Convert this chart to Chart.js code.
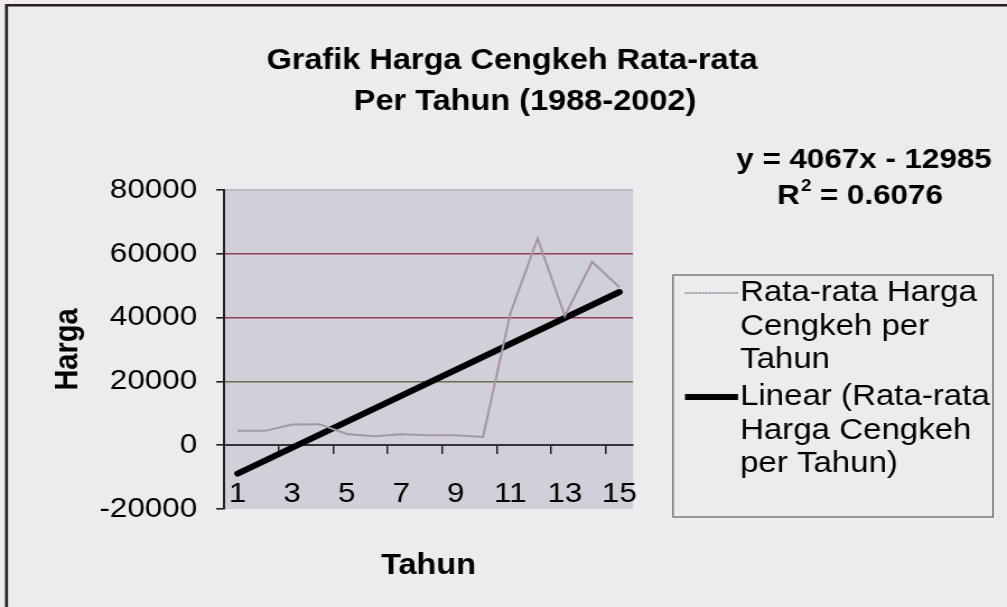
<!DOCTYPE html>
<html>
<head>
<meta charset="utf-8">
<script src="https://cdn.jsdelivr.net/npm/chart.js@4.4.0/dist/chart.umd.min.js"></script>
<style>
  html, body { margin: 0; padding: 0; background: #ececee; overflow: hidden; }
  #chart { display: block; }
</style>
</head>
<body>
<canvas id="chart" width="899" height="607" style="width: 1007px; height: 607px;"></canvas>
<script>
// the scan is a little wider than it is tall, so the canvas is drawn narrow and stretched by css
const STRETCH = 1007 / 899
const X = (px) => px / STRETCH

const years = ['1', '2', '3', '4', '5', '6', '7', '8', '9', '10', '11', '12', '13', '14', '15']
const hargaRataRata = [4500, 4500, 6500, 6600, 3500, 2800, 3400, 3100, 3100, 2600, 41300, 64800, 40500, 57500, 49500]
const trendYears = ['1', '15']
const trendHarga = [-8918, 48020]
const titleLines = ['Grafik Harga Cengkeh Rata-rata', 'Per Tahun (1988-2002)']
const equationLines = ['y = 4067x - 12985', '= 0.6076']
const legendLines = [
  ['Rata-rata Harga', 'Cengkeh per', 'Tahun'],
  ['Linear (Rata-rata', 'Harga Cengkeh', 'per Tahun)'],
]

const FONT = "'Liberation Sans', Arial, sans-serif"
Chart.defaults.font.family = FONT
Chart.defaults.color = '#000000'

const gridColors = {
  80000: 'rgba(150,150,160,0.6)',
  60000: '#94405a',
  40000: '#94405a',
  20000: '#6b6b48',
  0: '#3a3a44',
}

const backdrop = {
  id: 'backdrop',
  beforeDraw(chart) {
    const { ctx, chartArea: { left, top, width, height } } = chart
    ctx.save()
    ctx.fillStyle = '#ececee'
    ctx.fillRect(0, 0, chart.width, chart.height)
    ctx.fillStyle = '#d1d0d9'
    ctx.fillRect(left, top, width, height)
    // frame of the scanned chart object
    ctx.fillStyle = '#2a1e22'
    ctx.fillRect(X(6), 4, chart.width, 2.5)
    ctx.fillRect(X(5), 4, X(3), chart.height)
    ctx.restore()
  },
}

const texts = {
  id: 'texts',
  afterDraw(chart) {
    const { ctx, chartArea } = chart
    ctx.save()
    ctx.fillStyle = '#000'
    ctx.textAlign = 'center'
    ctx.textBaseline = 'middle'

    ctx.font = `bold 29px ${FONT}`
    ctx.fillText(titleLines[0], X(512), 61)
    ctx.fillText(titleLines[1], X(525), 102)

    // trendline equation
    ctx.font = `bold 28px ${FONT}`
    ctx.fillText(equationLines[0], X(864), 160)
    const w2 = ctx.measureText(equationLines[1]).width
    const rW = ctx.measureText('R').width
    const supW = 12
    const total = rW + supW + 6 + w2
    let x = X(860) - total / 2
    ctx.textAlign = 'left'
    ctx.fillText('R', x, 196)
    ctx.font = `bold 17px ${FONT}`
    ctx.fillText('2', x + rW + 1, 186)
    ctx.font = `bold 28px ${FONT}`
    ctx.fillText(equationLines[1], x + rW + supW + 6, 196)

    // axis titles
    ctx.textAlign = 'center'
    ctx.font = `bold 29px ${FONT}`
    ctx.fillText('Tahun', (chartArea.left + chartArea.right) / 2, 566)
    ctx.save()
    ctx.translate(X(68), (chartArea.top + chartArea.bottom) / 2)
    ctx.rotate(-Math.PI / 2)
    ctx.fillText('Harga', 0, 0)
    ctx.restore()

    // legend
    const boxL = X(673), boxR = X(993), boxT = 275, boxB = 517
    ctx.strokeStyle = '#4a3a40'
    ctx.lineWidth = 1
    ctx.strokeRect(boxL, boxT, boxR - boxL, boxB - boxT)
    const entryTops = [293, 397]
    const lineH = 33.5
    ctx.font = `29.5px ${FONT}`
    ctx.textAlign = 'left'
    chart.data.datasets.forEach((ds, i) => {
      const y0 = entryTops[i]
      ctx.beginPath()
      ctx.strokeStyle = ds.borderColor
      ctx.lineWidth = ds.borderWidth
      ctx.lineCap = 'butt'
      ctx.setLineDash(i === 0 ? [2, 1] : [])
      ctx.moveTo(X(685), y0)
      ctx.lineTo(X(738), y0)
      ctx.stroke()
      ctx.setLineDash([])
      legendLines[i].forEach((t, j) => {
        ctx.fillText(t, X(740), y0 + j * lineH)
      })
    })
    ctx.restore()
  },
}

new Chart(document.getElementById('chart'), {
  type: 'line',
  data: {
    labels: years,
    datasets: [
      {
        label: legendLines[0].join(' '),
        data: hargaRataRata,
        borderColor: '#a596a5',
        borderWidth: 2,
        pointRadius: 0,
        tension: 0,
      },
      {
        label: legendLines[1].join(' '),
        data: trendYears.map((yr, i) => ({ x: yr, y: trendHarga[i] })),
        borderColor: '#000000',
        borderWidth: 6,
        borderCapStyle: 'round',
        pointRadius: 0,
        tension: 0,
      },
    ],
  },
  options: {
    responsive: false,
    animation: false,
    devicePixelRatio: 1,
    layout: {
      padding: { left: X(224) - 150, right: 899 - X(633), top: 190, bottom: 98 },
    },
    plugins: {
      legend: { display: false },
      title: { display: false },
      tooltip: { enabled: false },
    },
    scales: {
      x: {
        type: 'category',
        position: { y: 0 },
        offset: true,
        border: { display: true, color: '#33333b', width: 2 },
        grid: {
          offset: true,
          drawOnChartArea: false,
          drawTicks: true,
          tickLength: 8,
          lineWidth: 1.5,
          color: (c) => (c.index % 2 === 0 && c.index > 0 && c.index < years.length ? '#222' : 'rgba(0,0,0,0)'),
        },
        ticks: {
          autoSkip: false,
          maxRotation: 0,
          padding: 24,
          font: { size: 28 },
          color: '#000',
          callback: function (val, i) {
            return i % 2 === 0 ? this.getLabelForValue(val) : ''
          },
        },
      },
      y: {
        min: -20000,
        max: 80000,
        afterFit: (scale) => { scale.width = 150 },
        border: { display: true, color: '#222', width: 2 },
        grid: {
          drawTicks: true,
          tickLength: 7,
          tickColor: '#222',
          lineWidth: 1.6,
          color: (c) => gridColors[c.tick.value] || 'rgba(0,0,0,0)',
        },
        ticks: {
          stepSize: 20000,
          padding: 17,
          font: { size: 28 },
          color: '#000',
          callback: (v) => String(v),
        },
      },
    },
  },
  plugins: [backdrop, texts],
})
</script>
</body>
</html>
